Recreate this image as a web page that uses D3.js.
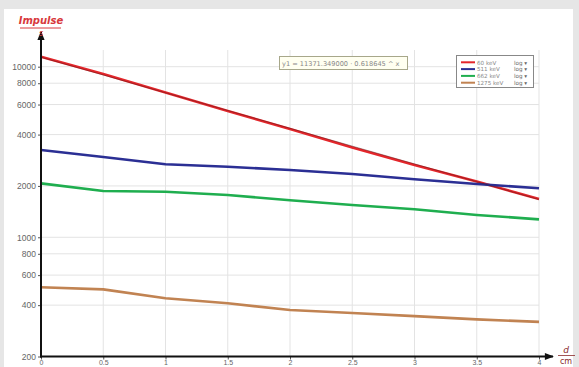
<!DOCTYPE html>
<html>
<head>
<meta charset="utf-8">
<script src="https://cdn.jsdelivr.net/npm/d3@7/dist/d3.min.js"></script>
<style>
  html, body { margin: 0; padding: 0; background: #e6e6e6; }
  svg { display: block; font-family: "DejaVu Sans", Arial, sans-serif; }
</style>
</head>
<body>
<svg id="chart" width="579" height="367"></svg>
<script>
// Absorber thickness in cm
const thickness = [0, 0.5, 1, 1.5, 2, 2.5, 3, 3.5, 4];

// Count rates (impulses per second) for each gamma energy
const counts60 = [11440, 9050, 7070, 5500, 4310, 3360, 2650, 2120, 1676];
const counts511 = [3246, 2954, 2678, 2592, 2480, 2349, 2187, 2052, 1937];
const counts662 = [2071, 1867, 1850, 1769, 1647, 1545, 1459, 1351, 1274];
const counts1275 = [509, 495, 439, 410, 375, 360, 345, 330, 319];

const seriesNames = ["60 keV", "511 keV", "662 keV", "1275 keV"];
const seriesColors = ["#e4262b", "#2b2f94", "#1fae4f", "#c18352"];

// Exponential fit of the 60 keV curve: y1 = a * b^x
const fitA = 11371.349;
const fitB = 0.618645;
const fitLabel = "y1 = 11371.349000 · 0.618645 ^ x";

const yTicks = [200, 400, 600, 800, 1000, 2000, 4000, 6000, 8000, 10000];
const xTicks = [0, 0.5, 1, 1.5, 2, 2.5, 3, 3.5, 4];

const svg = d3.select("#chart");

// panel
svg.append("rect").attr("x", 0).attr("y", 0).attr("width", 579).attr("height", 367).attr("fill", "#e6e6e6");
svg.append("rect").attr("x", 4).attr("y", 9).attr("width", 569).attr("height", 358).attr("fill", "#ffffff");

const x = d3.scaleLinear().domain([0, 4]).range([41, 539]);
const y = d3.scaleLog().domain([200, 10000]).range([356.5, 66.7]);

// grid
const grid = svg.append("g").attr("stroke", "#e3e3e3").attr("stroke-width", 1);
grid.selectAll("line.v").data(xTicks.slice(1)).join("line")
  .attr("x1", d => x(d)).attr("x2", d => x(d))
  .attr("y1", 50).attr("y2", y(200));
grid.selectAll("line.h").data(yTicks.slice(1)).join("line")
  .attr("x1", x(0)).attr("x2", x(4))
  .attr("y1", d => y(d)).attr("y2", d => y(d));

// axes ticks and labels
const yAxis = d3.axisLeft(y).tickValues(yTicks).tickFormat(d3.format("d")).tickSize(3).tickPadding(2);
const gy = svg.append("g").attr("transform", `translate(${x(0)},0)`).call(yAxis);
gy.select(".domain").remove();
gy.selectAll("line").attr("stroke", "#555");
gy.selectAll("text").attr("fill", "#666").attr("font-size", 8.5);

const xAxis = d3.axisBottom(x).tickValues(xTicks).tickFormat(d => String(d)).tickSize(3).tickPadding(1);
const gx = svg.append("g").attr("transform", `translate(0,${y(200)})`).call(xAxis);
gx.select(".domain").remove();
gx.selectAll("line").attr("stroke", "#555");
gx.selectAll("text").attr("fill", "#666").attr("font-size", 7).attr("dy", "0.6em");

// data lines
const allSeries = [counts60, counts511, counts662, counts1275];
const line = d3.line().x((d, i) => x(thickness[i])).y(d => y(d));
svg.append("g").selectAll("path").data(allSeries).join("path")
  .attr("d", d => line(d))
  .attr("fill", "none")
  .attr("stroke", (d, i) => seriesColors[i])
  .attr("stroke-width", 2.6)
  .attr("stroke-linejoin", "round");

// fit curve over the 60 keV data
const fitX = d3.range(0, 4.001, 0.05);
svg.append("path")
  .attr("d", d3.line().x(d => x(d)).y(d => y(fitA * Math.pow(fitB, d)))(fitX))
  .attr("fill", "none").attr("stroke", "#4a1414").attr("stroke-width", 0.8).attr("stroke-opacity", 0.55);

// axis lines with arrows
const defs = svg.append("defs");
defs.append("marker").attr("id", "arrow").attr("viewBox", "0 0 10 10")
  .attr("refX", 9).attr("refY", 5).attr("markerWidth", 11).attr("markerHeight", 9)
  .attr("orient", "auto").attr("markerUnits", "userSpaceOnUse")
  .append("path").attr("d", "M0,1 L10,5 L0,9 Z").attr("fill", "#111");

svg.append("line").attr("x1", x(0)).attr("x2", x(0)).attr("y1", y(200) + 1).attr("y2", 32)
  .attr("stroke", "#111").attr("stroke-width", 2).attr("marker-end", "url(#arrow)");
svg.append("line").attr("x1", x(0) - 1).attr("x2", 553).attr("y1", y(200)).attr("y2", y(200))
  .attr("stroke", "#111").attr("stroke-width", 2).attr("marker-end", "url(#arrow)");

// axis titles
const titleColor = "#d8393c";
svg.append("text").attr("x", x(0)).attr("y", 24).attr("text-anchor", "middle")
  .attr("font-size", 10).attr("font-style", "italic").attr("font-weight", "bold")
  .attr("fill", titleColor).text("Impulse");
svg.append("line").attr("x1", 20).attr("x2", 61).attr("y1", 28).attr("y2", 28)
  .attr("stroke", titleColor).attr("stroke-width", 1);
svg.append("text").attr("x", x(0)).attr("y", 36).attr("text-anchor", "middle")
  .attr("font-size", 8).attr("font-style", "italic").attr("fill", titleColor).text("s");

svg.append("text").attr("x", 566).attr("y", 353).attr("text-anchor", "middle")
  .attr("font-size", 9).attr("font-style", "italic").attr("fill", "#8a2a2a").text("d");
svg.append("line").attr("x1", 558).attr("x2", 575).attr("y1", 355.5).attr("y2", 355.5)
  .attr("stroke", "#8a2a2a").attr("stroke-width", 0.8);
svg.append("text").attr("x", 566).attr("y", 364).attr("text-anchor", "middle")
  .attr("font-size", 8).attr("fill", "#8a2a2a").text("cm");

// fit formula box
svg.append("rect").attr("x", 279.5).attr("y", 56.5).attr("width", 128).attr("height", 13)
  .attr("fill", "#fffff0").attr("stroke", "#a7a78a").attr("stroke-width", 1);
svg.append("text").attr("x", 282).attr("y", 66).attr("font-size", 6.6).attr("fill", "#888")
  .text(fitLabel);

// legend
const legend = svg.append("g");
legend.append("rect").attr("x", 456.5).attr("y", 55.5).attr("width", 77).attr("height", 32)
  .attr("fill", "#fff").attr("stroke", "#888").attr("stroke-width", 1);
const rows = legend.selectAll("g.row").data(seriesNames).join("g")
  .attr("transform", (d, i) => `translate(0,${62.3 + i * 6.8})`);
rows.append("line").attr("x1", 461).attr("x2", 475).attr("y1", 0).attr("y2", 0)
  .attr("stroke", (d, i) => seriesColors[i]).attr("stroke-width", 2);
rows.append("text").attr("x", 477).attr("y", 2.2).attr("font-size", 5.6).attr("fill", "#888").text(d => d);
rows.append("text").attr("x", 514).attr("y", 2.2).attr("font-size", 5.6).attr("fill", "#666").text("log ▾");
</script>
</body>
</html>
